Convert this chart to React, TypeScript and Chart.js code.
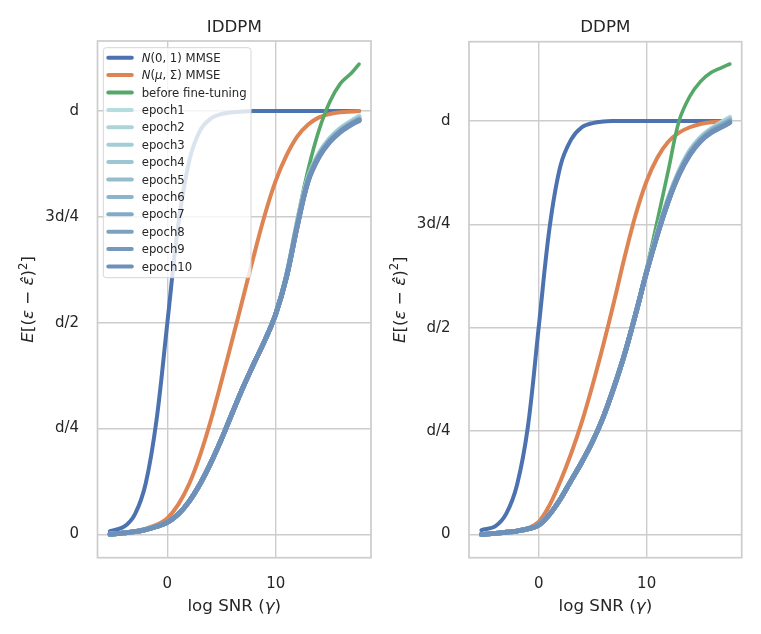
import { useEffect, useRef } from "react";
import { Chart, registerables } from "chart.js";

Chart.register(...registerables);

const FONT = '"DejaVu Sans", sans-serif';
const TEXT = "#262626";
const GRID = "#cccccc";

// x positions (log SNR) shared by every curve
const logSnr = [-5.3, -4, -3, -2, -1, 0, 1, 2, 3, 4, 5, 6, 7, 8, 9, 10, 11, 12, 13, 14, 15, 16, 17, 17.7];
const xTicks = [0, 10];
const yTicks = [0, 0.25, 0.5, 0.75, 1];
const yTickLabels = ["0", "d/4", "d/2", "3d/4", "d"];
const epochNames = ["epoch1", "epoch2", "epoch3", "epoch4", "epoch5", "epoch6", "epoch7", "epoch8", "epoch9", "epoch10"];

// IDDPM panel
const iddpmStdNormal = [0.007, 0.018, 0.047, 0.12, 0.27, 0.5, 0.73, 0.88, 0.953, 0.982, 0.993, 0.997, 0.999, 1, 1, 1, 1, 1, 1, 1, 1, 1, 1, 1];
const iddpmFitted = [0.0, 0.003, 0.007, 0.013, 0.022, 0.038, 0.07, 0.118, 0.185, 0.268, 0.362, 0.46, 0.56, 0.66, 0.755, 0.835, 0.895, 0.94, 0.968, 0.985, 0.993, 0.997, 0.999, 1.0];
const iddpmBefore = [0.0, 0.003, 0.006, 0.011, 0.018, 0.028, 0.047, 0.077, 0.118, 0.168, 0.225, 0.287, 0.348, 0.404, 0.458, 0.52, 0.615, 0.745, 0.862, 0.955, 1.022, 1.066, 1.09, 1.111];
const iddpmEpochs = [
  [0.0, 0.003, 0.006, 0.011, 0.018, 0.028, 0.047, 0.077, 0.118, 0.168, 0.225, 0.287, 0.348, 0.404, 0.458, 0.52, 0.612, 0.736, 0.843, 0.9, 0.936, 0.96, 0.977, 0.988],
  [0.0, 0.003, 0.006, 0.011, 0.018, 0.028, 0.047, 0.077, 0.118, 0.168, 0.225, 0.287, 0.348, 0.404, 0.458, 0.52, 0.611, 0.735, 0.842, 0.899, 0.935, 0.959, 0.976, 0.986],
  [0.0, 0.003, 0.006, 0.011, 0.018, 0.028, 0.047, 0.077, 0.118, 0.168, 0.225, 0.287, 0.348, 0.404, 0.458, 0.52, 0.611, 0.734, 0.841, 0.898, 0.933, 0.957, 0.974, 0.984],
  [0.0, 0.003, 0.006, 0.011, 0.018, 0.028, 0.047, 0.077, 0.118, 0.168, 0.225, 0.287, 0.348, 0.404, 0.458, 0.52, 0.61, 0.733, 0.84, 0.897, 0.932, 0.956, 0.973, 0.983],
  [0.0, 0.003, 0.006, 0.011, 0.018, 0.028, 0.047, 0.077, 0.118, 0.168, 0.225, 0.287, 0.348, 0.404, 0.458, 0.52, 0.61, 0.732, 0.839, 0.896, 0.931, 0.955, 0.972, 0.982],
  [0.0, 0.003, 0.006, 0.011, 0.018, 0.028, 0.047, 0.077, 0.118, 0.168, 0.225, 0.287, 0.348, 0.404, 0.458, 0.52, 0.609, 0.731, 0.838, 0.895, 0.93, 0.954, 0.971, 0.981],
  [0.0, 0.003, 0.006, 0.011, 0.018, 0.028, 0.047, 0.077, 0.118, 0.168, 0.225, 0.287, 0.348, 0.404, 0.458, 0.52, 0.609, 0.73, 0.837, 0.894, 0.929, 0.953, 0.97, 0.98],
  [0.0, 0.003, 0.006, 0.011, 0.018, 0.028, 0.047, 0.077, 0.118, 0.168, 0.225, 0.287, 0.348, 0.404, 0.458, 0.52, 0.608, 0.73, 0.836, 0.893, 0.928, 0.952, 0.969, 0.979],
  [0.0, 0.003, 0.006, 0.011, 0.018, 0.028, 0.047, 0.077, 0.118, 0.168, 0.225, 0.287, 0.348, 0.404, 0.458, 0.52, 0.608, 0.729, 0.835, 0.892, 0.928, 0.952, 0.969, 0.978],
  [0.0, 0.003, 0.006, 0.011, 0.018, 0.028, 0.047, 0.077, 0.118, 0.168, 0.225, 0.287, 0.348, 0.404, 0.458, 0.52, 0.607, 0.728, 0.834, 0.891, 0.927, 0.951, 0.968, 0.977],
];

// DDPM panel
const ddpmStdNormal = [0.01, 0.02, 0.05, 0.12, 0.26, 0.5, 0.74, 0.89, 0.955, 0.985, 0.995, 0.999, 1, 1, 1, 1, 1, 1, 1, 1, 1, 1, 1, 1];
const ddpmFitted = [0.0, 0.002, 0.005, 0.009, 0.015, 0.03, 0.07, 0.128, 0.195, 0.272, 0.362, 0.46, 0.565, 0.675, 0.775, 0.855, 0.912, 0.95, 0.972, 0.985, 0.993, 0.997, 0.999, 1.0];
const ddpmBefore = [0.0, 0.002, 0.005, 0.008, 0.013, 0.022, 0.047, 0.083, 0.127, 0.172, 0.222, 0.282, 0.355, 0.436, 0.532, 0.643, 0.76, 0.88, 1.0, 1.06, 1.096, 1.118, 1.13, 1.138];
const ddpmEpochs = [
  [0.0, 0.002, 0.005, 0.008, 0.013, 0.022, 0.048, 0.085, 0.13, 0.175, 0.225, 0.285, 0.358, 0.44, 0.535, 0.638, 0.731, 0.813, 0.879, 0.929, 0.961, 0.982, 0.998, 1.009],
  [0.0, 0.002, 0.005, 0.008, 0.013, 0.022, 0.048, 0.085, 0.13, 0.175, 0.225, 0.285, 0.358, 0.44, 0.535, 0.637, 0.73, 0.812, 0.878, 0.928, 0.96, 0.981, 0.996, 1.007],
  [0.0, 0.002, 0.005, 0.008, 0.013, 0.022, 0.048, 0.085, 0.13, 0.175, 0.225, 0.285, 0.358, 0.44, 0.535, 0.637, 0.729, 0.811, 0.877, 0.927, 0.959, 0.98, 0.995, 1.005],
  [0.0, 0.002, 0.005, 0.008, 0.013, 0.022, 0.048, 0.085, 0.13, 0.175, 0.225, 0.285, 0.358, 0.44, 0.535, 0.636, 0.728, 0.81, 0.876, 0.925, 0.957, 0.979, 0.993, 1.004],
  [0.0, 0.002, 0.005, 0.008, 0.013, 0.022, 0.048, 0.085, 0.13, 0.175, 0.225, 0.285, 0.358, 0.44, 0.535, 0.636, 0.727, 0.809, 0.875, 0.924, 0.956, 0.978, 0.992, 1.002],
  [0.0, 0.002, 0.005, 0.008, 0.013, 0.022, 0.048, 0.085, 0.13, 0.175, 0.225, 0.285, 0.358, 0.44, 0.535, 0.636, 0.727, 0.808, 0.874, 0.923, 0.955, 0.977, 0.991, 1.001],
  [0.0, 0.002, 0.005, 0.008, 0.013, 0.022, 0.048, 0.085, 0.13, 0.175, 0.225, 0.285, 0.358, 0.44, 0.535, 0.635, 0.726, 0.807, 0.873, 0.922, 0.954, 0.976, 0.99, 1.0],
  [0.0, 0.002, 0.005, 0.008, 0.013, 0.022, 0.048, 0.085, 0.13, 0.175, 0.225, 0.285, 0.358, 0.44, 0.535, 0.635, 0.726, 0.806, 0.872, 0.92, 0.953, 0.974, 0.988, 0.998],
  [0.0, 0.002, 0.005, 0.008, 0.013, 0.022, 0.048, 0.085, 0.13, 0.175, 0.225, 0.285, 0.358, 0.44, 0.535, 0.635, 0.725, 0.805, 0.871, 0.919, 0.952, 0.973, 0.987, 0.997],
  [0.0, 0.002, 0.005, 0.008, 0.013, 0.022, 0.048, 0.085, 0.13, 0.175, 0.225, 0.285, 0.358, 0.44, 0.535, 0.635, 0.725, 0.805, 0.87, 0.918, 0.951, 0.972, 0.986, 0.996],
];

const mainColors = ["#4c72b0", "#dd8452", "#55a868"];
const epochColors = ["#b5dcdf", "#acd5da", "#a4ced6", "#9cc6d2", "#94bdce", "#8cb4ca", "#84abc5", "#7ca2c0", "#7599bc", "#6f90b8"];

type Seg = { t: string; it?: boolean; sup?: boolean };

const legendLabels: Seg[][] = [
  [{ t: "N", it: true }, { t: "(0, 1) MMSE" }],
  [{ t: "N", it: true }, { t: "(" }, { t: "μ", it: true }, { t: ", Σ) MMSE" }],
  [{ t: "before fine-tuning" }],
  ...epochNames.map((n) => [{ t: n }]),
];
const yLabel: Seg[] = [
  { t: "E", it: true }, { t: "[(" }, { t: "ε", it: true }, { t: " − " },
  { t: "ε̂", it: true }, { t: ")" }, { t: "2", sup: true }, { t: "]" },
];
const xLabel: Seg[] = [{ t: "log SNR (" }, { t: "γ", it: true }, { t: ")" }];

function segFont(s: Seg, size: number) {
  return `${s.it ? "italic " : ""}${s.sup ? size * 0.7 : size}px ${FONT}`;
}
function richWidth(ctx: CanvasRenderingContext2D, segs: Seg[], size: number) {
  let w = 0;
  for (const s of segs) {
    ctx.font = segFont(s, size);
    w += ctx.measureText(s.t).width;
  }
  return w;
}
function drawRich(ctx: CanvasRenderingContext2D, segs: Seg[], x: number, y: number, size: number) {
  let cx = x;
  for (const s of segs) {
    ctx.font = segFont(s, size);
    ctx.fillText(s.t, cx, s.sup ? y - size * 0.4 : y);
    cx += ctx.measureText(s.t).width;
  }
}

interface PanelProps {
  title: string;
  stdNormal: number[];
  fitted: number[];
  before: number[];
  epochs: number[][];
  width: number;
  height: number;
  area: { left: number; right: number; top: number; bottom: number };
  yMin: number;
  yMax: number;
  yLabelX: number;
  showLegend: boolean;
}

function Panel(p: PanelProps) {
  const canvasRef = useRef<HTMLCanvasElement>(null);

  useEffect(() => {
    if (!canvasRef.current) return;
    const series = [p.stdNormal, p.fitted, p.before, ...p.epochs];
    const colors = [...mainColors, ...epochColors];
    const widths = [4, 4, 3.6, ...p.epochs.map(() => 4.8)];

    const decorations = {
      id: "decorations",
      afterDraw(chart: Chart) {
        const ctx = chart.ctx;
        const a = chart.chartArea;
        const cx = (a.left + a.right) / 2;
        ctx.save();
        ctx.strokeStyle = GRID;
        ctx.lineWidth = 1.7;
        ctx.strokeRect(a.left, a.top, a.right - a.left, a.bottom - a.top);

        ctx.fillStyle = TEXT;
        ctx.textBaseline = "alphabetic";
        ctx.textAlign = "left";
        const tw = richWidth(ctx, [{ t: p.title }], 16.7);
        drawRich(ctx, [{ t: p.title }], cx - tw / 2, 31.7, 16.7);

        const xw = richWidth(ctx, xLabel, 16.7);
        drawRich(ctx, xLabel, cx - xw / 2, 611, 16.7);

        const yw = richWidth(ctx, yLabel, 16.7);
        ctx.translate(p.yLabelX, (a.top + a.bottom) / 2);
        ctx.rotate(-Math.PI / 2);
        drawRich(ctx, yLabel, -yw / 2, 0, 16.7);
        ctx.restore();

        if (!p.showLegend) return;
        ctx.save();
        const bx = a.left + 5.8;
        const by = a.top + 6.7;
        ctx.beginPath();
        ctx.roundRect(bx, by, 147.7, 230, 3);
        ctx.fillStyle = "rgba(255,255,255,0.8)";
        ctx.fill();
        ctx.strokeStyle = "#d6d6d6";
        ctx.lineWidth = 1;
        ctx.stroke();
        ctx.lineCap = "round";
        legendLabels.forEach((segs, i) => {
          const y = by + 10 + i * 17.4;
          ctx.strokeStyle = colors[i];
          ctx.lineWidth = 4;
          ctx.beginPath();
          ctx.moveTo(bx + 5, y);
          ctx.lineTo(bx + 28.5, y);
          ctx.stroke();
          ctx.fillStyle = TEXT;
          drawRich(ctx, segs, bx + 38.4, y + 4, 11.7);
        });
        ctx.restore();
      },
    };

    const chart = new Chart(canvasRef.current, {
      type: "line",
      data: {
        datasets: series.map((ys, i) => ({
          label: i < 3 ? legendLabels[i].map((s) => s.t).join("") : epochNames[i - 3],
          data: ys.map((y, j) => ({ x: logSnr[j], y })),
          borderColor: colors[i],
          backgroundColor: colors[i],
          borderWidth: widths[i],
          pointRadius: 0,
          tension: 0.35,
          borderCapStyle: "round" as const,
          borderJoinStyle: "round" as const,
          fill: false,
          order: series.length - i,
        })),
      },
      options: {
        animation: false,
        responsive: true,
        maintainAspectRatio: false,
        events: [],
        layout: {
          padding: { left: 0, top: p.area.top, right: p.width - p.area.right, bottom: 0 },
        },
        plugins: {
          legend: { display: false },
          tooltip: { enabled: false },
          title: { display: false },
        },
        scales: {
          x: {
            type: "linear",
            min: -6.45,
            max: 18.8,
            afterBuildTicks: (s) => {
              s.ticks = xTicks.map((v) => ({ value: v }));
            },
            afterFit: (s) => {
              s.height = p.height - p.area.bottom;
            },
            grid: { color: GRID, lineWidth: 1.4, drawTicks: false },
            border: { display: false },
            ticks: {
              padding: 17.5,
              color: TEXT,
              font: { family: FONT, size: 15 },
              callback: (v) => String(v),
            },
          },
          y: {
            type: "linear",
            min: p.yMin,
            max: p.yMax,
            afterBuildTicks: (s) => {
              s.ticks = yTicks.map((v) => ({ value: v }));
            },
            afterFit: (s) => {
              s.width = p.area.left;
            },
            grid: { color: GRID, lineWidth: 1.4, drawTicks: false },
            border: { display: false },
            ticks: {
              padding: 18.5,
              color: TEXT,
              font: { family: FONT, size: 15 },
              callback: (_v, i) => yTickLabels[i] ?? "",
            },
          },
        },
      },
      plugins: [decorations],
    });
    return () => chart.destroy();
  }, [p]);

  return (
    <div style={{ position: "relative", width: p.width, height: p.height }}>
      <canvas ref={canvasRef} />
    </div>
  );
}

const leftPanel: PanelProps = {
  title: "IDDPM",
  stdNormal: iddpmStdNormal,
  fitted: iddpmFitted,
  before: iddpmBefore,
  epochs: iddpmEpochs,
  width: 380,
  height: 634,
  area: { left: 97.5, right: 371, top: 41, bottom: 557.7 },
  yMin: -0.0555,
  yMax: 1.1655,
  yLabelX: 33.3,
  showLegend: true,
};

const rightPanel: PanelProps = {
  title: "DDPM",
  stdNormal: ddpmStdNormal,
  fitted: ddpmFitted,
  before: ddpmBefore,
  epochs: ddpmEpochs,
  width: 381,
  height: 634,
  area: { left: 89, right: 361.7, top: 41.7, bottom: 557.7 },
  yMin: -0.0566,
  yMax: 1.192,
  yLabelX: 25,
  showLegend: false,
};

export default function App() {
  return (
    <div style={{ position: "fixed", left: 0, top: 0, width: 761, height: 634, background: "#fff", display: "flex" }}>
      <Panel {...leftPanel} />
      <Panel {...rightPanel} />
    </div>
  );
}
